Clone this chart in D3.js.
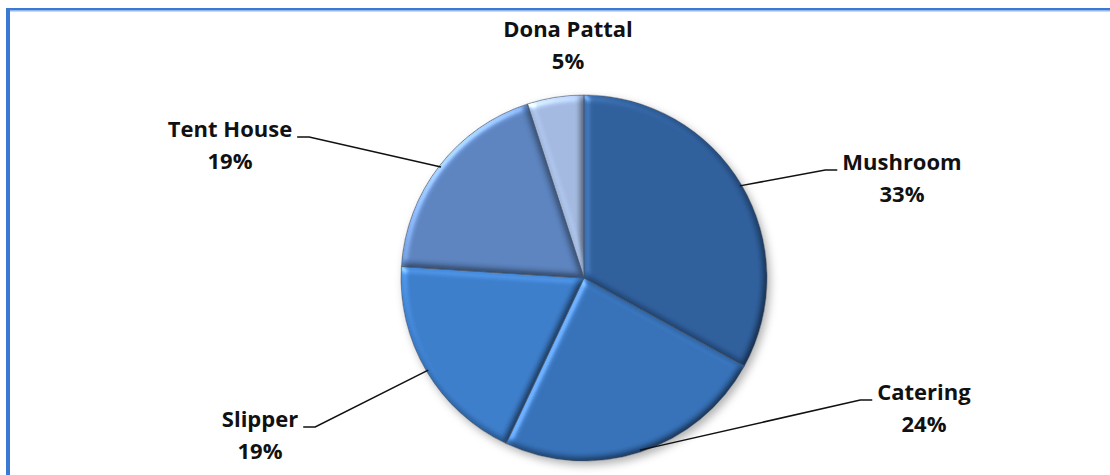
<!DOCTYPE html>
<html>
<head>
<meta charset="utf-8">
<script src="https://cdn.jsdelivr.net/npm/d3@7"></script>
<style>
    body { margin: 0; background: #fff; }
    .pieLabel { font-family: "Open Sans", sans-serif; font-weight: bold; font-size: 22px; fill: #111; }
    .leader { fill: none; stroke: #111; stroke-width: 1.5; }
</style>
</head>
<body>
<svg id="chart" width="1110" height="475"></svg>
<script>
const categories = ['Mushroom', 'Catering', 'Slipper', 'Tent House', 'Dona Pattal']
const shares = [33, 24, 19, 19, 5]
const sliceColors = ['#2e5e9b', '#3570b7', '#3b7cc9', '#5b82bd', '#a2b8de']

// where each label sits, relative to the pie centre (centre x, first baseline)
const labelOffsets = {
    'Mushroom': [318, -108],
    'Catering': [340, 122],
    'Slipper': [-324, 149],
    'Tent House': [-354, -141],
    'Dona Pattal': [-16, -241]
}
const withLeader = { 'Mushroom': true, 'Catering': true, 'Slipper': true, 'Tent House': true, 'Dona Pattal': false }

const style = {
    w: 1110, h: 475,
    cx: 584, cy: 278, r: 183,
    lineGap: 32,
    border: '#3a7ad3'
}

const svg = d3.select('#chart')
const defs = svg.append('defs')

let shadow = defs.append('filter').attr('id', 'shadow')
    .attr('color-interpolation-filters', 'sRGB')
    .attr('x', '-20%').attr('y', '-20%').attr('width', '140%').attr('height', '140%')
shadow.append('feDropShadow')
    .attr('dx', 3).attr('dy', 4).attr('stdDeviation', 4)
    .attr('flood-color', '#000').attr('flood-opacity', 0.3)

let bevel = defs.append('filter').attr('id', 'bevel')
    .attr('color-interpolation-filters', 'sRGB')
    .attr('x', '-5%').attr('y', '-5%').attr('width', '110%').attr('height', '110%')
bevel.append('feGaussianBlur').attr('in', 'SourceAlpha').attr('stdDeviation', 3.5).attr('result', 'blur')
let spec = bevel.append('feSpecularLighting')
    .attr('in', 'blur').attr('surfaceScale', 3).attr('specularConstant', 0.6)
    .attr('specularExponent', 22).attr('lighting-color', '#ffffff').attr('result', 'spec')
spec.append('feDistantLight').attr('azimuth', 225).attr('elevation', 30)
let diff = bevel.append('feDiffuseLighting')
    .attr('in', 'blur').attr('surfaceScale', 3).attr('diffuseConstant', 1)
    .attr('lighting-color', '#ffffff').attr('result', 'diff')
diff.append('feDistantLight').attr('azimuth', 225).attr('elevation', 60)
bevel.append('feComposite').attr('in', 'SourceGraphic').attr('in2', 'diff')
    .attr('operator', 'arithmetic').attr('k1', 1.15).attr('k2', 0).attr('k3', 0).attr('k4', 0).attr('result', 'shaded')
bevel.append('feComposite').attr('in', 'spec').attr('in2', 'SourceAlpha').attr('operator', 'in').attr('result', 'specIn')
bevel.append('feComposite').attr('in', 'shaded').attr('in2', 'specIn')
    .attr('operator', 'arithmetic').attr('k1', 0).attr('k2', 1).attr('k3', 0.45).attr('k4', 0).attr('result', 'lit')
bevel.append('feComposite').attr('in', 'lit').attr('in2', 'SourceAlpha').attr('operator', 'in')

// frame: only top and left edges are visible in the picture
svg.append('rect').attr('x', 6).attr('y', 8).attr('width', style.w).attr('height', 2.5).attr('fill', style.border)
svg.append('rect').attr('x', 10).attr('y', 10.5).attr('width', style.w).attr('height', 1).attr('fill', '#8fb3e4')
svg.append('rect').attr('x', 6).attr('y', 8).attr('width', 4).attr('height', style.h).attr('fill', style.border)

const data = categories.map((d, i) => ({ name: d, value: shares[i], color: sliceColors[i] }))

const pie = d3.pie().sort(null).value(d => d.value)
const arcs = pie(data)
const arc = d3.arc().innerRadius(0).outerRadius(style.r)
const edgeArc = d3.arc().innerRadius(style.r - 2).outerRadius(style.r - 2)

const pieG = svg.append('g')
    .attr('transform', `translate(${style.cx},${style.cy})`)

const sliceG = pieG.append('g').attr('filter', 'url(#shadow)')
sliceG.selectAll('path.slice')
    .data(arcs)
    .enter()
    .append('path')
    .classed('slice', true)
    .attr('d', arc)
    .attr('fill', d => d.data.color)
    .attr('filter', 'url(#bevel)')

sliceG.selectAll('path.sliceEdge')
    .data(arcs)
    .enter()
    .append('path')
    .classed('sliceEdge', true)
    .attr('d', arc)
    .attr('fill', 'none')
    .attr('stroke', '#3d4b60')
    .attr('stroke-opacity', 0.5)
    .attr('stroke-width', 1)

// labels
const labelG = pieG.append('g')
arcs.forEach(d => {
    let off = labelOffsets[d.data.name]
    let t = labelG.append('text')
        .classed('pieLabel', true)
        .attr('text-anchor', 'middle')
    t.append('tspan').attr('x', off[0]).attr('y', off[1]).text(d.data.name)
    t.append('tspan').attr('x', off[0]).attr('y', off[1] + style.lineGap).text(d.data.value + '%')

    if (!withLeader[d.data.name]) return
    let w = t.select('tspan').node().getComputedTextLength()
    let side = off[0] > 0 ? -1 : 1
    let x0 = off[0] + side * (w / 2 + 5)
    let x1 = x0 + side * 12
    let end = edgeArc.centroid(d)
    labelG.append('path')
        .classed('leader', true)
        .attr('d', d3.line()([[x0, off[1]], [x1, off[1]], end]))
})
</script>
</body>
</html>
